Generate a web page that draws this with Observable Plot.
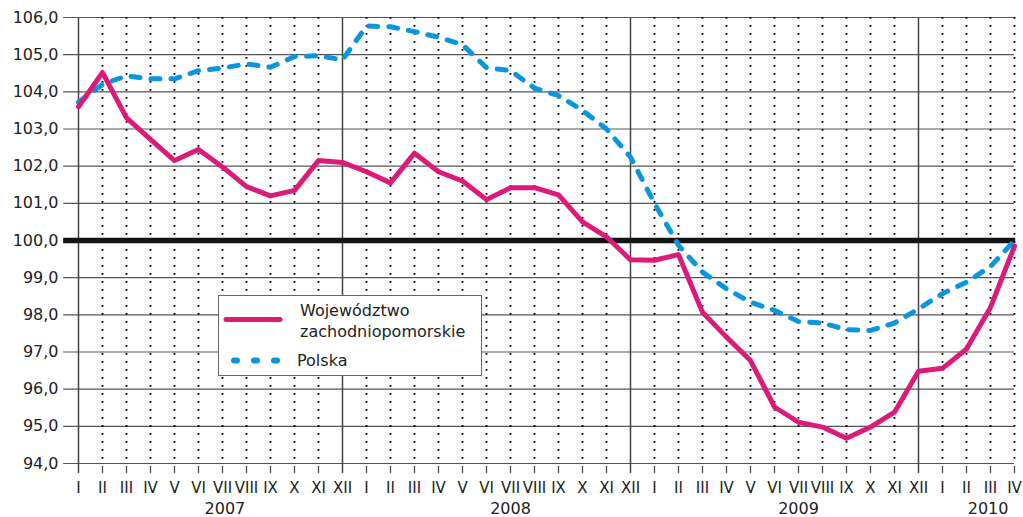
<!DOCTYPE html>
<html><head><meta charset="utf-8">
<script src="https://cdn.jsdelivr.net/npm/d3@7"></script>
<script src="https://cdn.jsdelivr.net/npm/@observablehq/plot@0.6"></script>
<style>
body{margin:0;background:#fff}
#chart{position:relative;width:1023px;height:517px}
</style>
</head><body><div id="chart"></div>
<script>
const romans = ["I","II","III","IV","V","VI","VII","VIII","IX","X","XI","XII"];
const monthLabels = [...romans, ...romans, ...romans, "I","II","III","IV"];
const years = ["2007","2008","2009","2010"];
const yTicks = [94,95,96,97,98,99,100,101,102,103,104,105,106];
const seriesNames = ["Województwo\nzachodniopomorskie","Polska"];

const wojewodztwo = [
  103.6,104.52,103.3,102.72,102.15,102.45,101.98,101.45,101.2,101.35,102.15,102.1,
  101.85,101.55,102.35,101.85,101.6,101.1,101.42,101.42,101.23,100.5,100.1,99.48,
  99.47,99.62,98.07,97.4,96.77,95.52,95.11,94.98,94.68,94.98,95.38,96.48,
  96.56,97.08,98.2,99.85];
const polska = [
  103.72,104.2,104.43,104.35,104.35,104.57,104.64,104.75,104.66,104.95,104.97,104.86,
  105.77,105.75,105.62,105.47,105.27,104.65,104.57,104.1,103.9,103.5,103.0,102.24,
  101.0,99.87,99.15,98.7,98.34,98.12,97.82,97.78,97.6,97.58,97.78,98.16,
  98.57,98.88,99.3,100.0];

const PINK = "#dc1a7a", BLUE = "#0a96dc";
const idx = d3.range(monthLabels.length);
const decIdx = idx.filter(i => monthLabels[i] === "XII");
const solidIdx = [0, ...decIdx];
const dottedIdx = idx.filter(i => !solidIdx.includes(i));
const yearPos = [6.1, 18, 30, 37.9];
const fmt = d => d.toFixed(1).replace(".", ",");

const chart = Plot.plot({
  width: 1023, height: 517,
  marginLeft: 78, marginRight: 9, marginTop: 17, marginBottom: 54,
  style: {fontFamily: "'DejaVu Sans', sans-serif", fontSize: "16px", color: "#222", background: "#fff"},
  x: {domain: [0, 39]},
  y: {domain: [94, 106]},
  marks: [
    Plot.ruleY(yTicks.filter(v => v !== 100), {x1: -0.62, x2: 39, stroke: "#555", strokeWidth: 1.1}),
    Plot.ruleX(dottedIdx, {stroke: "#000", strokeWidth: 1.8, strokeDasharray: "1.8,6.2"}),
    Plot.ruleX(solidIdx, {y1: 93.73, y2: 106, stroke: "#444", strokeWidth: 1.5}),
    Plot.ruleX(dottedIdx, {y1: 93.92, y2: 93.73, stroke: "#444", strokeWidth: 1.3}),
    Plot.ruleY([100], {x1: -0.62, x2: 39.05, stroke: "#141414", strokeWidth: 5.5}),
    Plot.line(polska, {x: (d, i) => i, y: d => d, stroke: BLUE, strokeWidth: 5, strokeDasharray: "9,11", strokeLinecap: "round"}),
    Plot.line(wojewodztwo, {x: (d, i) => i, y: d => d, stroke: PINK, strokeWidth: 5, strokeLinejoin: "round"}),
    Plot.axisY({ticks: yTicks, tickFormat: fmt, tickSize: 0, tickPadding: 20, fontSize: 16, label: null}),
    Plot.axisX({ticks: idx, tickFormat: d => monthLabels[d], tickSize: 0, tickPadding: 19, fontSize: 15, label: null}),
    Plot.axisX({ticks: yearPos, tickFormat: d => years[yearPos.indexOf(d)], tickSize: 0, tickPadding: 39, fontSize: 16, label: null})
  ]
});
document.getElementById("chart").appendChild(chart);

// legend inside plot area
const svg = d3.select(chart);
const lg = svg.append("g").attr("font-family", "'DejaVu Sans', sans-serif").attr("font-size", 16)
  .attr("fill", "#222").attr("text-anchor", "start");
lg.append("rect").attr("x", 218.5).attr("y", 295.5).attr("width", 263).attr("height", 80)
  .attr("fill", "#fff").attr("stroke", "#666").attr("stroke-width", 1);
lg.append("line").attr("x1", 226).attr("x2", 280).attr("y1", 319.5).attr("y2", 319.5)
  .attr("stroke", PINK).attr("stroke-width", 5).attr("stroke-linecap", "round");
const [n1, n2] = seriesNames[0].split("\n");
lg.append("text").attr("x", 300).attr("y", 310).attr("dy", "0.35em").text(n1);
lg.append("text").attr("x", 300).attr("y", 331.5).attr("dy", "0.35em").text(n2);
lg.append("line").attr("x1", 234).attr("x2", 282).attr("y1", 360.5).attr("y2", 360.5)
  .attr("stroke", BLUE).attr("stroke-width", 6).attr("stroke-dasharray", "3,17").attr("stroke-linecap", "round");
lg.append("text").attr("x", 297).attr("y", 360.5).attr("dy", "0.35em").text(seriesNames[1]);
</script>
</body></html>
